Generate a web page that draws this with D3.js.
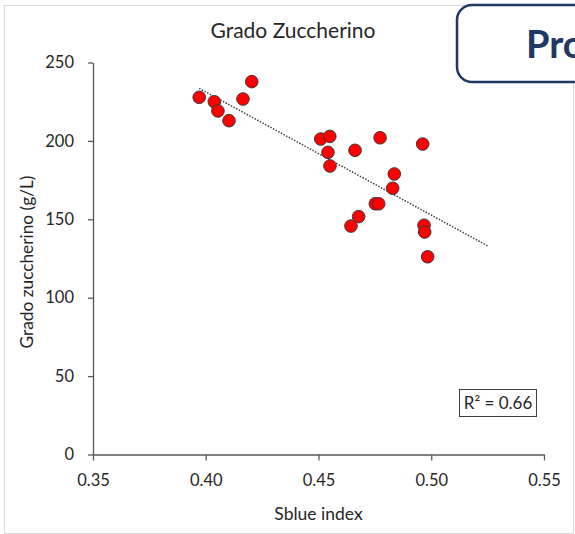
<!DOCTYPE html>
<html>
<head>
<meta charset="utf-8">
<script src="https://cdn.jsdelivr.net/npm/d3@7"></script>
<style>
  body { margin: 0; background: #fff; }
  text { font-family: Lato, "Open Sans", sans-serif; fill: #262626; }
</style>
</head>
<body>
<div id="chart"></div>
<script>
// data
var sblue = [0.3971, 0.4038, 0.4054, 0.4103, 0.4165, 0.4204, 0.4510, 0.4550, 0.4542, 0.4551, 0.4662,
             0.4773, 0.4962, 0.4836, 0.4829, 0.4752, 0.4767, 0.4678, 0.4644, 0.4968, 0.4971, 0.4984];
var zucchero = [227.8, 225.0, 219.1, 212.9, 226.7, 237.8, 201.2, 202.9, 192.7, 184.0, 194.0,
                202.0, 198.0, 178.9, 169.8, 159.9, 159.9, 151.7, 145.7, 146.2, 141.9, 126.1];
var xTicks = [0.35, 0.40, 0.45, 0.50, 0.55];
var yTicks = [0, 50, 100, 150, 200, 250];
var trendEnd = 0.525;   // forward forecast of the trendline
var r2Label = "R² = 0.66";

var W = 575, H = 534;

var svg = d3.select("#chart")
  .append("svg")
    .attr("width", W)
    .attr("height", H);

// chart frame
svg.append("rect")
  .attr("x", 4.5).attr("y", 5.5)
  .attr("width", 569).attr("height", 528)
  .attr("fill", "#fff")
  .attr("stroke", "#d9d9d9");

var x = d3.scaleLinear().domain([0.35, 0.55]).range([93, 544]);
var y = d3.scaleLinear().domain([0, 250]).range([454.5, 62.5]);

// axes
var xAxis = svg.append("g")
  .attr("transform", "translate(0," + y(0) + ")")
  .call(d3.axisBottom(x).tickValues(xTicks).tickFormat(d3.format(".2f")).tickSizeInner(6).tickSizeOuter(0).tickPadding(14));
var yAxis = svg.append("g")
  .attr("transform", "translate(" + x(0.35) + ",0)")
  .call(d3.axisLeft(y).tickValues(yTicks).tickSizeInner(5).tickSizeOuter(0).tickPadding(14));

[xAxis, yAxis].forEach(function(a) {
  a.select(".domain").attr("stroke", "#595959").attr("stroke-width", 1.3);
  a.selectAll(".tick line").attr("stroke", "#595959").attr("stroke-width", 1.3);
  a.selectAll(".tick text").style("font-size", "16.5px").attr("fill", "#262626");
});

// trendline (least squares on the points)
var mx = d3.mean(sblue), my = d3.mean(zucchero);
var sxy = d3.sum(sblue, function(v, i) { return (v - mx) * (zucchero[i] - my); });
var sxx = d3.sum(sblue, function(v) { return (v - mx) * (v - mx); });
var slope = sxy / sxx, icpt = my - slope * mx;
var x0 = d3.min(sblue);
svg.append("line")
  .attr("x1", x(x0)).attr("y1", y(icpt + slope * x0))
  .attr("x2", x(trendEnd)).attr("y2", y(icpt + slope * trendEnd))
  .attr("stroke", "#404040")
  .attr("stroke-width", 1.5)
  .attr("stroke-dasharray", "1.5,1.5");

// points
svg.selectAll("circle.pt")
  .data(sblue)
  .enter()
  .append("circle")
    .attr("class", "pt")
    .attr("cx", function(d) { return x(d); })
    .attr("cy", function(d, i) { return y(zucchero[i]); })
    .attr("r", 6.3)
    .attr("fill", "#ff0000")
    .attr("stroke", "#3a3a3a")
    .attr("stroke-width", 1);

// R² label
svg.append("rect")
  .attr("x", 459.5).attr("y", 389.5)
  .attr("width", 77).attr("height", 27)
  .attr("fill", "#fff")
  .attr("stroke", "#404040");
svg.append("text")
  .attr("x", 498).attr("y", 409)
  .attr("text-anchor", "middle")
  .style("font-size", "17px")
  .text(r2Label);

// titles
svg.append("text")
  .attr("x", 293).attr("y", 38)
  .attr("text-anchor", "middle")
  .style("font-size", "21px")
  .text("Grado Zuccherino");

svg.append("text")
  .attr("x", x(0.45)).attr("y", 520)
  .attr("text-anchor", "middle")
  .style("font-size", "17.5px")
  .text("Sblue index");

svg.append("text")
  .attr("transform", "translate(33,262)rotate(-90)")
  .attr("text-anchor", "middle")
  .style("font-size", "17.3px")
  .text("Grado zuccherino (g/L)");

// box in the top right corner
svg.append("rect")
  .attr("x", 457).attr("y", 5)
  .attr("width", 170).attr("height", 77)
  .attr("rx", 15)
  .attr("fill", "#fff")
  .attr("stroke", "#203864")
  .attr("stroke-width", 2.5);
svg.append("text")
  .attr("x", 526).attr("y", 58)
  .style("font-size", "38px")
  .style("font-weight", "bold")
  .style("fill", "#203864")
  .text("Pro");
</script>
</body>
</html>
